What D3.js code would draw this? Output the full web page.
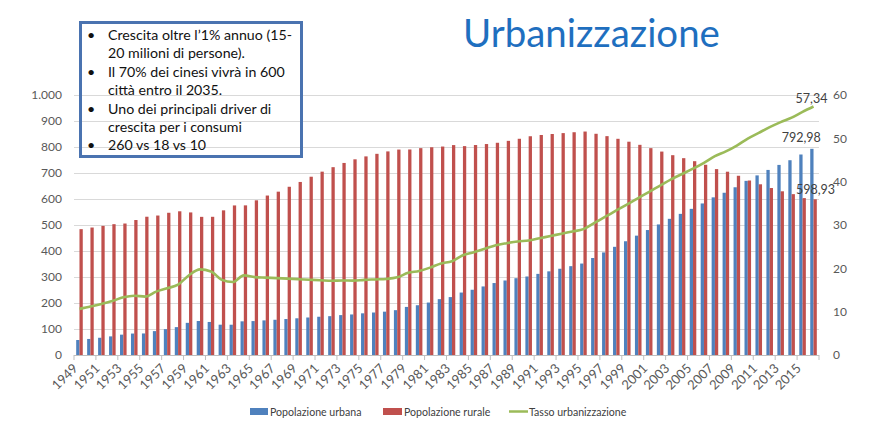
<!DOCTYPE html>
<html><head><meta charset="utf-8">
<script src="https://cdn.jsdelivr.net/npm/d3@7"></script>
<style>
html,body{margin:0;padding:0;background:#fff;}
svg{display:block;font-family:Lato,"Noto Sans",sans-serif;}
</style></head>
<body>
<svg id="chart" width="878" height="435"></svg>
<script>
const years = d3.range(1949, 2017).map(String);
const urbana = [57.65,61.69,66.32,71.63,78.26,82.49,82.85,91.85,99.49,107.21,123.71,130.73,127.07,116.59,116.46,129.50,130.45,133.13,135.48,138.38,141.17,144.24,147.11,149.35,153.45,155.95,160.30,163.41,166.69,172.45,184.95,191.40,201.71,214.80,222.74,240.17,250.94,263.66,276.74,286.61,295.40,301.95,312.03,321.75,331.73,341.69,351.74,373.04,394.49,416.08,437.48,459.06,480.64,502.12,523.76,542.83,562.12,582.88,606.33,624.03,645.12,669.78,690.79,711.82,731.11,749.16,771.16,792.98];
const rurale = [484.02,490.27,496.68,503.19,505.70,519.17,531.80,536.43,547.04,552.73,548.36,531.34,531.52,556.36,575.26,575.49,594.93,613.29,628.20,647.06,665.54,685.68,705.18,722.42,738.66,752.64,763.90,773.76,783.05,790.14,790.47,795.65,799.01,801.74,807.34,803.40,807.57,811.41,816.26,823.65,831.64,841.38,846.20,849.96,853.44,856.81,859.47,850.85,841.77,831.53,820.38,808.37,795.63,782.41,768.51,757.05,745.44,731.60,714.96,704.99,689.38,671.13,656.56,642.22,629.61,618.66,603.46,598.93];
const tasso = [10.64,11.18,11.78,12.46,13.31,13.69,13.48,14.62,15.39,16.25,18.41,19.75,19.29,17.33,16.84,18.37,17.98,17.86,17.74,17.62,17.50,17.38,17.26,17.13,17.20,17.16,17.34,17.44,17.55,17.92,18.96,19.39,20.16,21.13,21.62,23.01,23.71,24.52,25.32,25.81,26.21,26.41,26.94,27.46,27.99,28.51,29.04,30.48,31.91,33.35,34.78,36.22,37.66,39.09,40.53,41.76,42.99,44.34,45.89,46.99,48.34,49.95,51.27,52.57,53.73,54.77,56.10,57.34];
const leftTicks = [0,100,200,300,400,500,600,700,800,900,1000];
const rightTicks = [0,10,20,30,40,50,60];
const xTickLabels = years.filter((d,i)=>i%2===0);
const seriesNames = ["Popolazione urbana","Popolazione rurale","Tasso urbanizzazione"];
const noteLines = [
  {b:true, t:"Crescita oltre l\u20191% annuo (15-"},
  {b:false,t:"20 milioni di persone)."},
  {b:true, t:"Il 70% dei cinesi vivr\u00e0 in 600"},
  {b:false,t:"citt\u00e0 entro il 2035."},
  {b:true, t:"Uno dei principali driver di"},
  {b:false,t:"crescita per i consumi"},
  {b:true, t:"260 vs 18 vs 10"}
];
const title = "Urbanizzazione";

const C_BLUE="#4f81bd", C_RED="#c0504d", C_GREEN="#9bbb59", C_TXT="#595959";
const svg = d3.select("#chart");
const L=74, R=819, T=95, B=355;

const x = d3.scaleBand().domain(years).range([L,R]).paddingInner(0.4).paddingOuter(0.2);
const xs = d3.scaleBand().domain(["u","r"]).range([0,x.bandwidth()]);
const y = d3.scaleLinear().domain([0,1000]).range([B,T]);
const y2 = d3.scaleLinear().domain([0,60]).range([B,T]);

// gridlines
svg.append("g").selectAll("line").data(leftTicks.filter(d=>d>0)).join("line")
  .attr("x1",L).attr("x2",R).attr("y1",d=>y(d)+0.5).attr("y2",d=>y(d)+0.5)
  .attr("stroke","#d9d9d9").attr("stroke-width",1);

// left axis labels
const yAx = d3.axisLeft(y).tickValues(leftTicks).tickSize(0).tickPadding(12)
  .tickFormat(d=>d===1000?"1.000":String(d));
const gy = svg.append("g").attr("transform",`translate(${L},0)`).call(yAx);
gy.select(".domain").remove();
gy.selectAll("text").attr("fill",C_TXT).style("font-size","12px").style("font-family","Lato,sans-serif");

const y2Ax = d3.axisRight(y2).tickValues(rightTicks).tickSize(0).tickPadding(14);
const gy2 = svg.append("g").attr("transform",`translate(${R},0)`).call(y2Ax);
gy2.select(".domain").remove();
gy2.selectAll("text").attr("fill",C_TXT).style("font-size","12px").style("font-family","Lato,sans-serif");

// bars
const bars = svg.append("g");
bars.selectAll("rect.u").data(years).join("rect").attr("class","u")
  .attr("x",d=>x(d)+xs("u")).attr("width",xs.bandwidth())
  .attr("y",(d,i)=>y(urbana[i])).attr("height",(d,i)=>y(0)-y(urbana[i])).attr("fill",C_BLUE);
bars.selectAll("rect.r").data(years).join("rect").attr("class","r")
  .attr("x",d=>x(d)+xs("r")).attr("width",xs.bandwidth())
  .attr("y",(d,i)=>y(rurale[i])).attr("height",(d,i)=>y(0)-y(rurale[i])).attr("fill",C_RED);

// x axis line & ticks
svg.append("line").attr("x1",L).attr("x2",R).attr("y1",B+0.5).attr("y2",B+0.5).attr("stroke","#bfbfbf");
svg.append("g").selectAll("line").data(d3.range(0,years.length+1,2)).join("line")
  .attr("x1",k=>L+k*(R-L)/years.length).attr("x2",k=>L+k*(R-L)/years.length)
  .attr("y1",B).attr("y2",B+5).attr("stroke","#bfbfbf");
svg.append("g").selectAll("text").data(xTickLabels).join("text")
  .attr("transform",d=>`translate(${x(d)+x.bandwidth()/2-4},${B+11}) rotate(-45)`)
  .attr("text-anchor","end").attr("dy","0.35em")
  .attr("fill",C_TXT).style("font-size","13px").text(d=>d);

// line
const line = d3.line().x((d,i)=>x(years[i])+x.bandwidth()/2).y(d=>y2(d)).curve(d3.curveMonotoneX);
svg.append("path").datum(tasso).attr("d",line).attr("fill","none")
  .attr("stroke",C_GREEN).attr("stroke-width",2.6).attr("stroke-linejoin","round");

// data labels
const lastYear = years[years.length-1], li = years.length-1;
const lab = svg.append("g").attr("fill","#404040").style("font-size","12.5px");
lab.append("text").attr("x",x(lastYear)+x.bandwidth()/2-2).attr("y",y2(tasso[li])-4).attr("text-anchor","middle").text(d3.format(".2f")(tasso[li]).replace(".",","));
lab.append("text").attr("x",x(lastYear)+xs("u")-9).attr("y",y(urbana[li])-7).attr("text-anchor","middle").text(d3.format(".2f")(urbana[li]).replace(".",","));
lab.append("text").attr("x",x(lastYear)+xs("r")+2).attr("y",y(rurale[li])-5).attr("text-anchor","middle").text(d3.format(".2f")(rurale[li]).replace(".",","));

// legend
const lg = svg.append("g").style("font-size","10.6px").attr("fill","#404040");
lg.append("rect").attr("x",250).attr("y",408).attr("width",18).attr("height",7).attr("fill",C_BLUE);
lg.append("text").attr("x",270).attr("y",415.5).text(seriesNames[0]);
lg.append("rect").attr("x",383).attr("y",408).attr("width",19).attr("height",7).attr("fill",C_RED);
lg.append("text").attr("x",404).attr("y",415.5).text(seriesNames[1]);
lg.append("line").attr("x1",509).attr("x2",528).attr("y1",411.5).attr("y2",411.5).attr("stroke",C_GREEN).attr("stroke-width",2.5);
lg.append("text").attr("x",529).attr("y",415.5).text(seriesNames[2]);

// title
const tt = svg.append("text").attr("x",463).attr("y",47).attr("fill","#1f6fbf")
  .style("font-size","38px").text(title);
const tw = tt.node().getComputedTextLength();
tt.style("font-size",(38*257/tw)+"px");

// note box
svg.append("rect").attr("x",80.5).attr("y",22.5).attr("width",221).attr("height",134)
  .attr("fill","none").attr("stroke","#4a73b0").attr("stroke-width",3);
const nb = svg.append("g").style("font-size","14.2px").attr("fill","#111");
nb.selectAll("text.t").data(noteLines).join("text").attr("class","t")
  .attr("x",108).attr("y",(d,i)=>40+i*18.4).text(d=>d.t);
nb.selectAll("text.b").data(noteLines.filter(d=>d.b)).join("text").attr("class","b")
  .attr("x",87).attr("y",d=>40+noteLines.indexOf(d)*18.4).text("\u2022");
</script>
</body></html>
